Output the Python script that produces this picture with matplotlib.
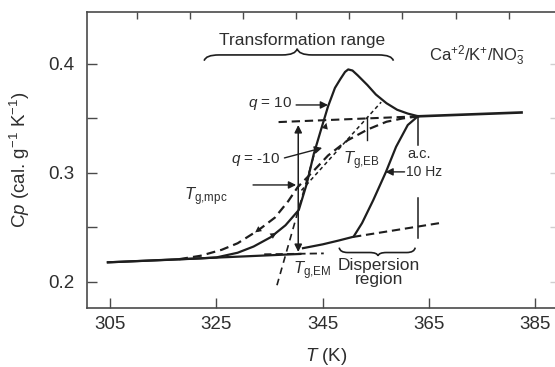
import matplotlib
matplotlib.use("Agg")
import matplotlib.pyplot as plt
from matplotlib.path import Path
import matplotlib.patches as patches

plt.rcParams['font.family'] = ['Liberation Sans', 'DejaVu Sans']
plt.rcParams['mathtext.fontset'] = 'custom'
plt.rcParams['mathtext.rm'] = 'Liberation Sans'
plt.rcParams['mathtext.it'] = 'Liberation Sans:italic'
plt.rcParams['mathtext.bf'] = 'Liberation Sans:bold'

INK = "#1e1e1e"
TXT = "#2e2e2e"
###############################################################################
# Data (T in K, Cp in cal g-1 K-1)

# heating scan, q = +10 K/min (solid, with overshoot)
heat_T = [304.6, 315.0, 322.0, 325.0, 329.0, 332.0, 335.2, 338.0, 340.5,
          342.0, 343.3, 344.7, 346.0, 347.3, 348.3, 349.2, 349.8, 350.6,
          351.6, 353.4, 355.0, 357.0, 359.0, 361.0, 363.0]
heat_Cp = [0.2180, 0.2201, 0.2216, 0.2225, 0.2268, 0.2325, 0.2410, 0.2520,
           0.2660, 0.2900, 0.3170, 0.3400, 0.3610, 0.3780, 0.3860, 0.3927,
           0.3950, 0.3940, 0.3895, 0.3807, 0.3720, 0.3640, 0.3580, 0.3545,
           0.3520]

# cooling scan, q = -10 K/min (dashed)
cool_T = [318.0, 322.0, 326.0, 329.0, 332.9, 336.0, 338.5, 340.3, 343.3,
          346.0, 349.7, 353.5, 357.0, 360.0, 363.0]
cool_Cp = [0.2209, 0.2240, 0.2295, 0.2355, 0.2475, 0.2590, 0.2740, 0.2870,
           0.3020, 0.3160, 0.3300, 0.3400, 0.3470, 0.3500, 0.3520]

# a.c. heat capacity at 10 Hz (solid)
ac_T = [341.3, 345.0, 348.0, 350.8, 352.4, 354.5, 356.9, 358.8, 361.0, 362.9]
ac_Cp = [0.2310, 0.2345, 0.2380, 0.2415, 0.2540, 0.2750, 0.3010, 0.3240,
         0.3440, 0.3520]

# equilibrium liquid (solid part and extrapolation)
liq_T = [363.0, 382.4]
liq_Cp = [0.3520, 0.3555]
liq_ext_T = [336.7, 363.0]
liq_ext_Cp = [0.3467, 0.3520]

# glass line (solid part and extrapolation)
glass_T = [304.6, 340.8]
glass_Cp = [0.2180, 0.2257]
glass_ext_T = [334.0, 345.2]
glass_ext_Cp = [0.2254, 0.2262]

# a.c. glass-like extrapolation
acg_T = [350.7, 367.1]
acg_Cp = [0.2413, 0.2541]

# tangents used for T_g,EM and T_g,EB
tanEM_T = [336.4, 343.8]
tanEM_Cp = [0.1970, 0.3240]
tanEB_T = [341.0, 356.0]
tanEB_Cp = [0.2840, 0.3650]

x_major = [305, 325, 345, 365, 385]
x_top = [310, 320, 330, 340, 350, 360, 370, 380]
y_major = [0.2, 0.3, 0.4]
y_minor = [0.25, 0.35]
###############################################################################
fig = plt.figure(figsize=(5.55, 3.67), dpi=100)
ax = fig.add_axes([87 / 555, 1 - 308 / 367, 1 - 87 / 555 + 0.002, (308 - 12) / 367])
ax.set_xlim(300.67, 388.9)
ax.set_ylim(0.1761, 0.4477)

DASH = (0, (4.0, 2.3))
ax.plot(glass_T, glass_Cp, color=INK, lw=1.6)
ax.plot(glass_ext_T, glass_ext_Cp, color=INK, lw=1.3, ls=DASH)
ax.plot(heat_T, heat_Cp, color=INK, lw=1.6)
ax.plot(cool_T, cool_Cp, color=INK, lw=1.6, ls=DASH)
ax.plot(ac_T, ac_Cp, color=INK, lw=1.6)
ax.plot(liq_T, liq_Cp, color=INK, lw=1.9)
ax.plot(liq_ext_T, liq_ext_Cp, color=INK, lw=1.5, ls=DASH)
ax.plot(acg_T, acg_Cp, color=INK, lw=1.5, ls=DASH)
ax.plot(tanEM_T, tanEM_Cp, color=INK, lw=1.2, ls=(0, (4, 3)))
ax.plot(tanEB_T, tanEB_Cp, color=INK, lw=1.1, ls=(0, (2.5, 2)))

###############################################################################
# Arrows
def arrow(tip, tail, lw=1.0, scale=11):
    ax.annotate("", xy=tip, xytext=tail,
                arrowprops=dict(arrowstyle="-|>", color=INK, lw=lw,
                                mutation_scale=scale, shrinkA=0, shrinkB=0))

arrow((332.3, 0.2455), (334.2, 0.2525), lw=0.01)      # cooling direction
arrow((336.3, 0.2450), (334.0, 0.2380), lw=0.01)      # heating direction
arrow((345.7, 0.3460), (345.0, 0.3330), lw=0.01)      # heating direction
arrow((346.0, 0.3624), (340.0, 0.3624))               # q = 10
arrow((344.9, 0.3230), (337.8, 0.3138))               # q = -10
arrow((340.0, 0.2890), (331.9, 0.2890))               # T_g,mpc
arrow((356.8, 0.3010), (360.4, 0.3010))               # 10 Hz
# double headed delta Cp arrow
ax.annotate("", xy=(340.4, 0.3440), xytext=(340.4, 0.2275),
            arrowprops=dict(arrowstyle="<|-|>", color=INK, lw=1.1,
                            mutation_scale=11, shrinkA=0, shrinkB=0))
# small markers
ax.plot([353.4, 353.4], [0.3514, 0.3300], color=INK, lw=1.0)
ax.plot([363.0, 363.0], [0.3520, 0.3260], color=INK, lw=1.1)
ax.plot([363.0, 363.0], [0.2770, 0.2400], color=INK, lw=1.1)

###############################################################################
# Braces
def brace(x0, x1, xm, y_end, y_bar, y_tip, dx):
    verts = [(x0, y_end), (x0 + 0.1 * dx, y_bar), (x0 + dx, y_bar),
             (xm - dx, y_bar), (xm - 0.1 * dx, y_bar), (xm, y_tip),
             (xm + 0.1 * dx, y_bar), (xm + dx, y_bar),
             (x1 - dx, y_bar), (x1 - 0.1 * dx, y_bar), (x1, y_end)]
    codes = [Path.MOVETO, Path.CURVE3, Path.CURVE3,
             Path.LINETO, Path.CURVE3, Path.CURVE3,
             Path.CURVE3, Path.CURVE3,
             Path.LINETO, Path.CURVE3, Path.CURVE3]
    ax.add_patch(patches.PathPatch(Path(verts, codes), fill=False,
                                   color=INK, lw=1.2))

brace(322.7, 358.3, 340.2, 0.4030, 0.4083, 0.4140, 2.8)
brace(348.1, 362.4, 355.4, 0.2315, 0.2270, 0.2240, 1.6)

###############################################################################
# Labels
ax.text(341.1, 0.4215, "Transformation range", fontsize=12.5, color=TXT,
        ha="center", va="center")
ax.text(365.0, 0.4075, r"Ca$^{+2}$/K$^{+}$/NO$_3^{-}$", fontsize=12,
        color=TXT, ha="left", va="center")
ax.text(339.3, 0.3640, r"$q$ = 10", fontsize=11, color=TXT,
        ha="right", va="center")
ax.text(337.0, 0.3120, r"$q$ = -10", fontsize=11, color=TXT,
        ha="right", va="center")
ax.text(319.0, 0.2780, r"$T_{\rm g{,}mpc}$", fontsize=12, color=TXT,
        ha="left", va="center")
ax.text(348.9, 0.3115, r"$T_{\rm g{,}EB}$", fontsize=12, color=TXT,
        ha="left", va="center")
ax.text(339.4, 0.2105, r"$T_{\rm g{,}EM}$", fontsize=12, color=TXT,
        ha="left", va="center")
ax.text(363.2, 0.3170, "a.c.", fontsize=10.5, color=TXT,
        ha="center", va="center")
ax.text(360.7, 0.3010, "10 Hz", fontsize=10, color=TXT,
        ha="left", va="center")
ax.text(355.6, 0.2085, "Dispersion\nregion", fontsize=12.5, color=TXT,
        ha="center", va="center", linespacing=0.95)

###############################################################################
# Axes styling
for side in ["left", "bottom", "top"]:
    ax.spines[side].set_color("#4a4a4a")
    ax.spines[side].set_linewidth(1.2)
ax.spines["right"].set_visible(False)

ax.set_xticks(x_major)
ax.set_xticklabels([str(v) for v in x_major])
ax.set_yticks(y_major)
ax.set_yticklabels([f"{v:.1f}" for v in y_major])
ax.set_yticks(y_minor, minor=True)
ax.tick_params(axis="both", which="both", direction="in", length=7,
               width=1.0, color="#4a4a4a", labelsize=13.5, labelcolor=TXT)
ax.tick_params(axis="x", pad=6)
ax.tick_params(axis="y", pad=9)

top = ax.secondary_xaxis("top")
top.set_xticks(x_top)
top.tick_params(direction="in", length=5, width=1.0, color="#4a4a4a",
                labeltop=False)
top.spines["top"].set_visible(False)

right = ax.secondary_yaxis("right")
right.set_yticks(y_major + y_minor)
right.tick_params(direction="in", length=4, width=1.0, color="#cfcfcf",
                  labelright=False)
right.spines["right"].set_visible(False)

ax.set_xlabel(r"$T$ (K)", fontsize=13.5, color=TXT)
ax.xaxis.set_label_coords(0.511, -0.13)
ax.set_ylabel(r"C$\mathit{p}$ (cal. g$^{-1}$ K$^{-1}$)", fontsize=13.5,
              color=TXT)
ax.yaxis.set_label_coords(-0.117, 0.5)

fig.savefig("out.png", dpi=100)
